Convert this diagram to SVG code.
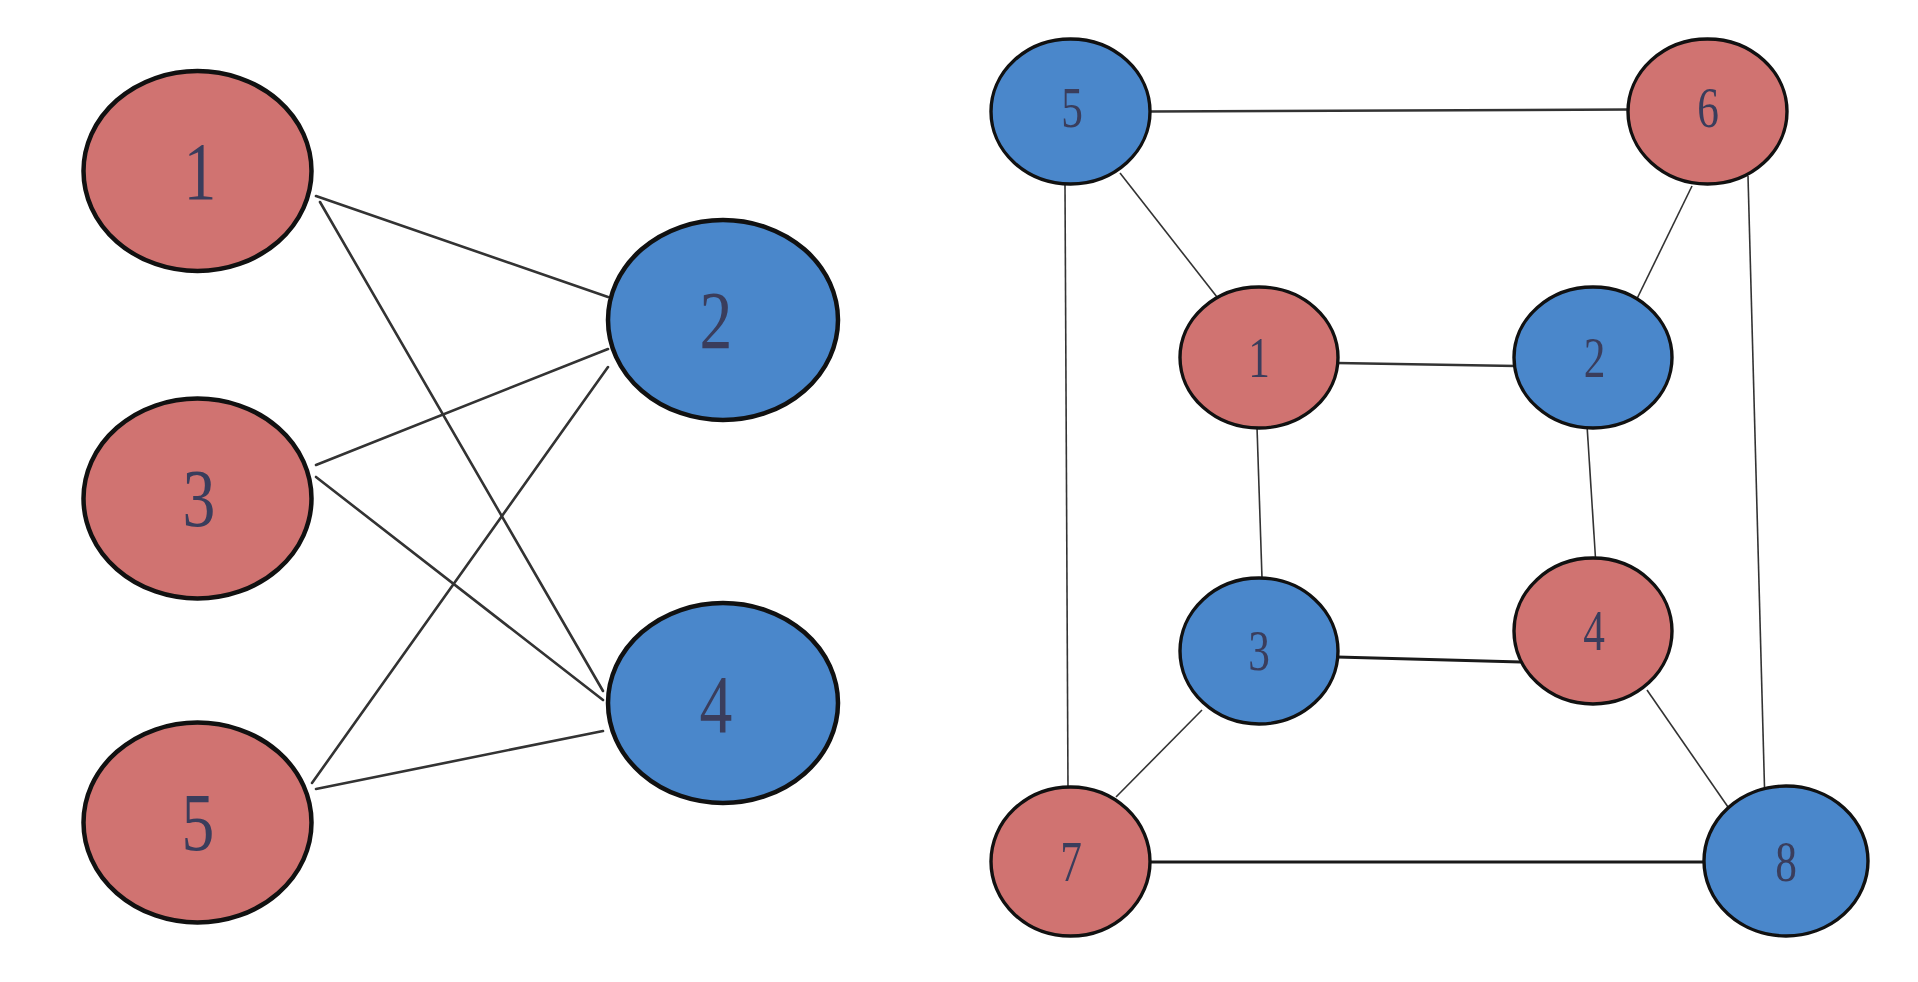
<svg xmlns="http://www.w3.org/2000/svg" width="1918" height="982" viewBox="0 0 1918 982">
<style>
.red{fill:#D07371;stroke:#111;stroke-width:4.5}
.blue{fill:#4A87CB;stroke:#111;stroke-width:4.5}
.rs{stroke-width:3.4}
.e{stroke:#333;stroke-width:2.6;fill:none;stroke-linecap:round}
.t{stroke:#333;stroke-width:1.6;fill:none}
.k{stroke:#1a1a1a;stroke-width:2.8;fill:none}
.lbl{font-family:"Liberation Serif","DejaVu Serif",serif;fill:#3a3d5c;text-anchor:middle}
.big{font-size:82px}
.sm{font-size:57px}
</style>
<rect width="1918" height="982" fill="#fff"/>
<g id="connectors">
<line class="e" x1="316" y1="196" x2="608" y2="297"/>
<line class="e" x1="320" y1="202" x2="603" y2="691"/>
<line class="e" x1="316" y1="465" x2="608" y2="349"/>
<line class="e" x1="316" y1="477" x2="603" y2="700"/>
<line class="e" x1="312" y1="783" x2="608" y2="367"/>
<line class="e" x1="316" y1="789" x2="603" y2="731"/>
<line class="e" x1="1150" y1="111.5" x2="1630" y2="109.5"/>
<line class="t" x1="1120" y1="173" x2="1217" y2="297"/>
<line class="t" x1="1065" y1="185" x2="1068" y2="790"/>
<line class="t" x1="1692" y1="186" x2="1630" y2="313"/>
<line class="t" x1="1748" y1="176" x2="1765" y2="806"/>
<line class="e" x1="1337" y1="363" x2="1516" y2="366"/>
<line class="t" x1="1257" y1="427" x2="1262" y2="578"/>
<line class="t" x1="1587" y1="425" x2="1596" y2="566"/>
<line class="k" x1="1337" y1="657" x2="1521" y2="662"/>
<line class="t" x1="1202" y1="710" x2="1116" y2="797"/>
<line class="t" x1="1647" y1="690" x2="1728" y2="807"/>
<line class="k" x1="1149" y1="862" x2="1708" y2="862"/>
</g>
<g id="L1"><ellipse class="red" cx="197.5" cy="171" rx="114" ry="100"/><text class="lbl big" transform="translate(200 198.5) scale(0.8 1)">1</text></g>
<g id="L3"><ellipse class="red" cx="197.5" cy="498.5" rx="114" ry="100"/><text class="lbl big" transform="translate(199 526) scale(0.8 1)">3</text></g>
<g id="L5"><ellipse class="red" cx="197.5" cy="822.5" rx="114" ry="100"/><text class="lbl big" transform="translate(198 850) scale(0.8 1)">5</text></g>
<g id="L2"><ellipse class="blue" cx="723" cy="320" rx="115" ry="100"/><text class="lbl big" transform="translate(716 347.5) scale(0.8 1)">2</text></g>
<g id="L4"><ellipse class="blue" cx="723" cy="703" rx="115" ry="100"/><text class="lbl big" transform="translate(716 732) scale(0.8 1)">4</text></g>
<g id="R5"><ellipse class="blue rs" cx="1070.5" cy="111.5" rx="79.5" ry="72.5"/><text class="lbl sm" transform="translate(1072 127) scale(0.76 1)">5</text></g>
<g id="R6"><ellipse class="red rs" cx="1707.5" cy="111.5" rx="79.5" ry="72.5"/><text class="lbl sm" transform="translate(1708 127) scale(0.76 1)">6</text></g>
<g id="R1"><ellipse class="red rs" cx="1259" cy="357.5" rx="79" ry="70.5"/><text class="lbl sm" transform="translate(1259 377) scale(0.76 1)">1</text></g>
<g id="R2"><ellipse class="blue rs" cx="1593" cy="357.5" rx="79" ry="70.5"/><text class="lbl sm" transform="translate(1594.5 377) scale(0.76 1)">2</text></g>
<g id="R3"><ellipse class="blue rs" cx="1259" cy="651" rx="79" ry="73"/><text class="lbl sm" transform="translate(1259 670) scale(0.76 1)">3</text></g>
<g id="R4"><ellipse class="red rs" cx="1593" cy="631" rx="79" ry="73"/><text class="lbl sm" transform="translate(1594 650) scale(0.76 1)">4</text></g>
<g id="R7"><ellipse class="red rs" cx="1070.5" cy="861.5" rx="79.5" ry="74.5"/><text class="lbl sm" transform="translate(1071 881) scale(0.76 1)">7</text></g>
<g id="R8"><ellipse class="blue rs" cx="1786" cy="861" rx="82" ry="75"/><text class="lbl sm" transform="translate(1786 880.5) scale(0.76 1)">8</text></g>
</svg>
